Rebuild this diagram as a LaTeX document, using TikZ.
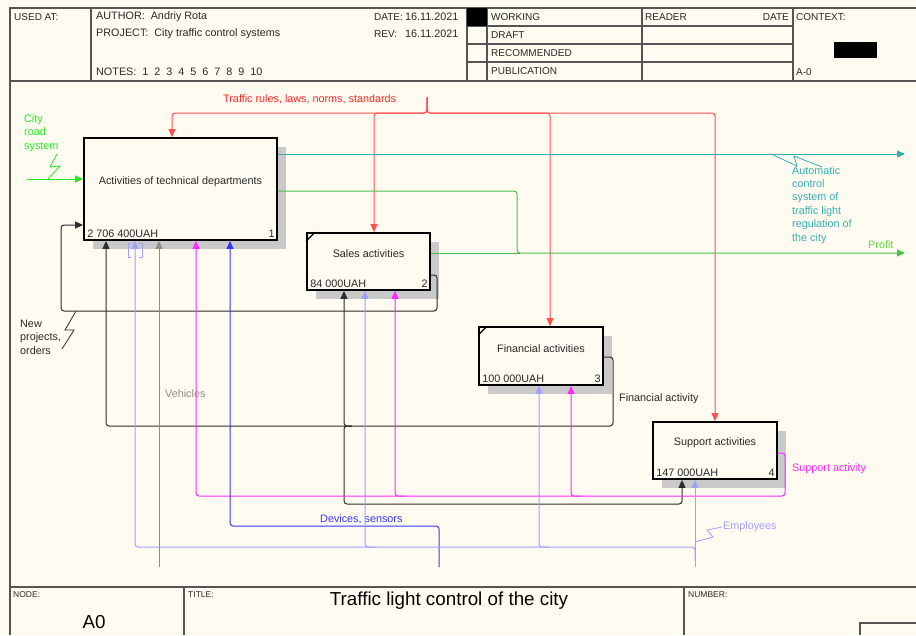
\documentclass[tikz,border=0pt]{standalone}
\usepackage{fontspec}
\setmainfont{Liberation Sans}
\usetikzlibrary{arrows.meta,patterns,shadows}
\definecolor{bg}{RGB}{255,251,240}
\definecolor{frm}{RGB}{85,85,85}
\definecolor{txt}{RGB}{40,40,40}
\definecolor{ctlred}{RGB}{255,80,80}
\definecolor{redtxt}{RGB}{255,40,40}
\definecolor{inpgreen}{RGB}{40,235,40}
\definecolor{outteal}{RGB}{55,175,175}
\definecolor{profgreen}{RGB}{75,190,75}
\definecolor{proftxt}{RGB}{100,215,60}
\definecolor{magc}{RGB}{255,40,255}
\definecolor{devblue}{RGB}{55,55,255}
\definecolor{vehgray}{RGB}{140,140,140}
\definecolor{empc}{RGB}{160,160,255}
\definecolor{blkc}{RGB}{45,45,45}
\newcommand\myfs{\fontsize{10.8}{13.4}\selectfont}
\newcommand\mycaps{\fontsize{10}{12}\selectfont}
\newcommand\mysmall{\fontsize{8.5}{10}\selectfont}
\newcommand\mybig{\fontsize{18.8}{22}\selectfont}
\tikzset{
  actbox/.style={draw=black, line width=1.8pt, fill=bg, inner sep=0pt,
    general shadow={fill=gray!42, shadow xshift=9pt, shadow yshift=-9pt}},
  idef/.style={line width=1pt, rounded corners=3pt, -{Triangle[length=8pt,width=7pt]}},
  plain/.style={line width=1pt, rounded corners=3pt},
  squig/.style={line width=0.8pt},
  hdr/.style={font=\myfs, text=txt, anchor=west, inner sep=0pt},
  hcap/.style={font=\mycaps, text=txt, anchor=west, inner sep=0pt},
  lbl/.style={font=\myfs, anchor=west, inner sep=0pt, align=left},
  boxtxt/.style={font=\myfs, text=txt, inner sep=0pt},
  frame/.style={draw=frm, line width=1.1pt}
}
\begin{document}
\begin{tikzpicture}[x=1pt,y=-1pt]
\useasboundingbox (0,0) rectangle (916,635);
\fill[bg] (0,0) rectangle (916,635);
% ---------- frame / header ----------
\draw[frame, line width=1.4pt] (916,8) -- (10,8) -- (10,635);
\draw[frame] (10,81) -- (916,81);
\foreach \xx in {91,467,487,642,793} \draw[frame] (\xx,8) -- (\xx,81);
\foreach \yy in {26,44,62} \draw[frame] (467,\yy) -- (793,\yy);
\fill[black] (467,8) rectangle (487,26);
\fill[black] (834,42) rectangle (877,58);
\node[hcap] (usedat) at (14,17) {USED AT:};
\node[hdr] (author) at (96,17) {AUTHOR:\ \ Andriy Rota};
\node[hdr] (project) at (96,34) {PROJECT:\ \ City traffic control systems};
\node[hdr] (notes) at (96,72) {NOTES:\ \ 1\ \ 2\ \ 3\ \ 4\ \ 5\ \ 6\ \ 7\ \ 8\ \ 9\ \ 10};
\node[hcap] (datel) at (374,17) {DATE:};
\node[hdr] (datev) at (405,17) {16.11.2021};
\node[hcap] (revl) at (374,34) {REV:};
\node[hdr] (revv) at (405,34) {16.11.2021};
\node[hcap] (working) at (491,17) {WORKING};
\node[hcap] (draft) at (491,35) {DRAFT};
\node[hcap] (recom) at (491,53) {RECOMMENDED};
\node[hcap] (publ) at (491,71) {PUBLICATION};
\node[hcap] (reader) at (645,17) {READER};
\node[hcap, anchor=east] (rdate) at (789,17) {DATE};
\node[hcap] (context) at (796,17) {CONTEXT:};
\node[hcap] (aminus) at (796,72) {A-0};
% ---------- footer ----------
\draw[frame] (10,587) -- (916,587);
\draw[frame] (184,587) -- (184,635);
\draw[frame] (684,587) -- (684,635);
\draw[frame] (860,635) -- (860,623) -- (916,623);
\node[hdr, font=\mysmall] (nodel) at (13,595) {NODE:};
\node[font=\mybig, text=black, inner sep=0pt] (nodev) at (94,622) {A0};
\node[hdr, font=\mysmall] (titlel) at (188,595) {TITLE:};
\node[font=\mybig, text=black, inner sep=0pt] (title) at (449,601) {Traffic light control of the city};
\node[hdr, font=\mysmall] (numberl) at (688,595) {NUMBER:};
% ---------- activity boxes ----------
\node[actbox, minimum width=193pt, minimum height=102pt] (b1) at (180.5,189) {};
\node[actbox, minimum width=123pt, minimum height=57pt] (b2) at (368.5,261.5) {};
\node[actbox, minimum width=124pt, minimum height=58pt] (b3) at (541,356) {};
\node[actbox, minimum width=124pt, minimum height=57pt] (b4) at (715,450.5) {};
\node[boxtxt] (b1t) at ([yshift=7pt]b1.center) {Activities of technical departments};
\node[boxtxt] (b2t) at ([yshift=7.5pt]b2.center) {Sales activities};
\node[boxtxt] (b3t) at ([yshift=7pt]b3.center) {Financial activities};
\node[boxtxt] (b4t) at ([yshift=7.5pt]b4.center) {Support activities};
\node[boxtxt, anchor=base west] (b1c) at ([xshift=4pt,yshift=3.5pt]b1.south west) {2 706 400UAH};
\node[boxtxt, anchor=base east] (b1n) at ([xshift=-3pt,yshift=3.5pt]b1.south east) {1};
\node[boxtxt, anchor=base west] (b2c) at ([xshift=4pt,yshift=3.5pt]b2.south west) {84 000UAH};
\node[boxtxt, anchor=base east] (b2n) at ([xshift=-3pt,yshift=3.5pt]b2.south east) {2};
\node[boxtxt, anchor=base west] (b3c) at ([xshift=4pt,yshift=3.5pt]b3.south west) {100 000UAH};
\node[boxtxt, anchor=base east] (b3n) at ([xshift=-3pt,yshift=3.5pt]b3.south east) {3};
\node[boxtxt, anchor=base west] (b4c) at ([xshift=4pt,yshift=3.5pt]b4.south west) {147 000UAH};
\node[boxtxt, anchor=base east] (b4n) at ([xshift=-3pt,yshift=3.5pt]b4.south east) {4};
\draw[line width=1.2pt] ([xshift=9pt]b2.north west) -- ([yshift=-9pt]b2.north west);
\draw[line width=1.2pt] ([xshift=9pt]b3.north west) -- ([yshift=-9pt]b3.north west);
% ---------- free ends ----------
\coordinate (rf) at (427,97);
\coordinate (cin) at (27,179);
\coordinate (cout) at (905,154);
\coordinate (pout) at (905,253);
\coordinate (devin) at (439,567);
\coordinate (vehin) at (159,567);
\coordinate (empin) at (695,567);
% ---------- controls (red) ----------
\draw[idef, ctlred] (rf) -- (427,113) -- (172,113) -- (b1.north -| 172,0);
\draw[idef, ctlred] (rf) -- (427,113) -- (374,113) -- (b2.north -| 374,0);
\draw[idef, ctlred] (rf) -- (427,113) -- (550,113) -- (b3.north -| 550,0);
\draw[idef, ctlred] (rf) -- (427,113) -- (715,113) -- (b4.north);
\node[lbl, text=redtxt] (ctlt) at (223,99) {Traffic rules, laws, norms, standards};
% ---------- input (green) ----------
\draw[idef, inpgreen] (cin) -- (b1.west |- cin);
\node[lbl, text=inpgreen] (cint) at (24,133) {City\\road\\system};
\draw[squig, inpgreen] (57,154) -- (50,167) -- (60,166) -- (48,179);
% ---------- outputs ----------
\draw[idef, outteal] (b1.east |- cout) -- (cout);
\draw[squig, outteal] (771,154) -- (797,166) -- (794,156) -- (822,167);
\node[lbl, text=outteal, anchor=north west] (coutt) at (792,166) {Automatic\\control\\system of\\traffic light\\regulation of\\the city};
\draw[idef, profgreen] (b1.east |- 0,191) -- (517,191) -- (517,253) -- (pout);
\draw[plain, profgreen] (b2.east |- pout) -- (520,253);
\node[lbl, text=proftxt] (proft) at (868,245) {Profit};
% ---------- feedback: new projects ----------
\draw[idef, blkc] (b2.east |- 0,275) -- (437,275) -- (437,311) -- (61,311) -- (61,225) -- (b1.west |- 0,225);
\draw[squig, blkc] (76,311) -- (65,330) -- (74,330) -- (62,349);
\node[lbl, text=txt] (npt) at (20,337) {New\\projects,\\orders};
% ---------- financial activity ----------
\draw[idef, blkc] (b3.east |- 0,357) -- (613,357) -- (613,426) -- (106,426) -- (b1.south -| 106,0);
\draw[idef, blkc] (352,426) -- (344,426) -- (b2.south -| 344,0);
\draw[idef, blkc] (352,426) -- (344,426) -- (344,504) -- (682,504) -- (b4.south -| 682,0);
\node[lbl, text=txt] (fat) at (619,399) {Financial activity};
% ---------- support activity ----------
\draw[idef, magc] (b4.east |- 0,453) -- (785,453) -- (785,496) -- (196,496) -- (b1.south -| 196,0);
\draw[idef, magc] (405,496) -- (395,496) -- (b2.south -| 395,0);
\draw[idef, magc] (581,496) -- (571,496) -- (b3.south -| 571,0);
\node[lbl, text=magc] (sat) at (792,469) {Support activity};
% ---------- mechanisms ----------
\draw[idef, devblue] (devin) -- (439,526) -- (230,526) -- (b1.south -| 230,0);
\node[lbl, text=devblue] (devt) at (320,519) {Devices, sensors};
\draw[idef, vehgray] (vehin) -- (b1.south -| 159,0);
\node[lbl, text=vehgray] (veht) at (165,394) {Vehicles};
\draw[idef, empc] (empin) -- (b4.south -| 695,0);
\draw[idef, empc] (695,560) -- (695,547) -- (135,547) -- (b1.south -| 135,0);
\draw[idef, empc] (375,547) -- (365,547) -- (b2.south -| 365,0);
\draw[idef, empc] (549,547) -- (539,547) -- (b3.south -| 539,0);
\draw[empc, line width=0.8pt] (131,243) -- (128,243) -- (128,257) -- (131,257);
\draw[empc, line width=0.8pt] (139,243) -- (142,243) -- (142,257) -- (139,257);
\draw[squig, empc] (695,542) -- (713,537) -- (707,530) -- (722,527);
\node[lbl, text=empc] (empt) at (723,527) {Employees};
\end{tikzpicture}
\end{document}
